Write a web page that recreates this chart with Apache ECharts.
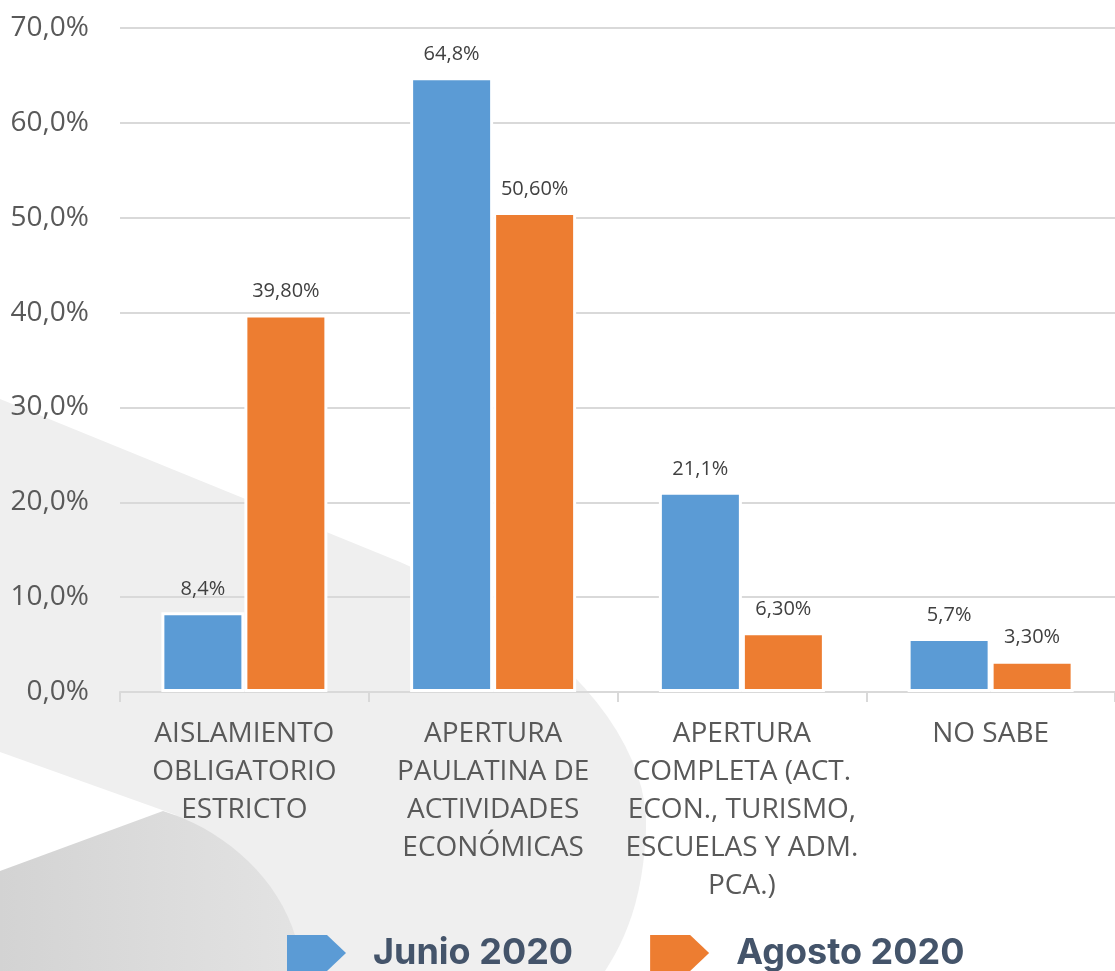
<!DOCTYPE html>
<html>
<head>
<meta charset="utf-8">
<script src="https://cdn.jsdelivr.net/npm/echarts@6/dist/echarts.min.js"></script>
<style>
html,body{margin:0;padding:0;background:#fff;}
#c{width:1115px;height:971px;}
</style>
</head>
<body>
<div id="c"></div>
<script>
var categories = [
  'AISLAMIENTO\nOBLIGATORIO\nESTRICTO',
  'APERTURA\nPAULATINA DE\nACTIVIDADES\nECONÓMICAS',
  'APERTURA\nCOMPLETA (ACT.\nECON., TURISMO,\nESCUELAS Y ADM.\nPCA.)',
  'NO SABE'
];
var junio = [8.4, 64.8, 21.1, 5.7];
var agosto = [39.8, 50.6, 6.3, 3.3];
var seriesNames = ['Junio 2020', 'Agosto 2020'];
var yTicks = { min: 0, max: 70, interval: 10 };

function fmt(v, d) { return v.toFixed(d).replace('.', ',') + '%'; }

// decorative background outline helper (cubic bezier sampling)
function bez(p0, p1, p2, p3, n) {
  var out = [];
  for (var i = 1; i <= n; i++) {
    var t = i / n, u = 1 - t;
    out.push([
      u*u*u*p0[0] + 3*u*u*t*p1[0] + 3*u*t*t*p2[0] + t*t*t*p3[0],
      u*u*u*p0[1] + 3*u*u*t*p1[1] + 3*u*t*t*p2[1] + t*t*t*p3[1]
    ]);
  }
  return out;
}
var lightShape = [[0, 399], [400, 562]]
  .concat(bez([400, 562], [560, 630], [650, 740], [646, 830], 20))
  .concat(bez([646, 830], [643, 900], [625, 940], [605, 971], 12))
  .concat([[0, 971]]);
var whiteWedge = [[0, 752], [176, 815], [0, 880]];
var darkShape = [[0, 871], [163, 811]]
  .concat(bez([163, 811], [232, 832], [296, 892], [302, 971], 20))
  .concat([[0, 971]]);

var chart = echarts.init(document.getElementById('c'));
var arrowIcon = 'path://M0 0 L40 0 L59 18 L40 36 L0 36 Z';
chart.setOption({
  animation: false,
  backgroundColor: '#ffffff',
  graphic: [
    { type: 'polygon', z: -10, silent: true, shape: { points: lightShape }, style: { fill: '#efefef' } },
    { type: 'polygon', z: -9, silent: true, shape: { points: whiteWedge }, style: { fill: '#ffffff' } },
    { type: 'polygon', z: -8, silent: true, shape: { points: darkShape },
      style: { fill: { type: 'linear', x: 0, y: 0, x2: 1, y2: 0, colorStops: [
        { offset: 0, color: '#d3d3d3' }, { offset: 1, color: '#e3e3e3' }] } } }
  ],
  grid: { left: 120, right: -8, top: 28, bottom: 279, containLabel: false },
  legend: {
    data: seriesNames,
    left: 287, top: 935, padding: 0,
    itemWidth: 59, itemHeight: 36, itemGap: 77,
    icon: arrowIcon,
    itemStyle: { borderWidth: 0 },
    textStyle: { fontFamily: 'Inter', fontWeight: 700, fontSize: 36, color: '#44546A', padding: [0, 0, 10, 22] }
  },
  xAxis: {
    type: 'category',
    data: categories,
    axisLine: { lineStyle: { color: '#d9d9d9', width: 2 } },
    axisTick: { show: true, length: 10, lineStyle: { color: '#d9d9d9', width: 2 } },
    axisLabel: { interval: 0, fontFamily: 'Open Sans', fontSize: 28, lineHeight: 38, color: '#595959', margin: 23 }
  },
  yAxis: {
    type: 'value',
    min: yTicks.min, max: yTicks.max, interval: yTicks.interval,
    axisLine: { show: false },
    axisTick: { show: false },
    splitLine: { lineStyle: { color: '#d9d9d9', width: 2 } },
    axisLabel: { fontFamily: 'Open Sans', fontSize: 28, color: '#595959', margin: 31,
      formatter: function (v) { return fmt(v, 1); } }
  },
  series: [
    { name: seriesNames[0], type: 'bar', data: junio, barWidth: 83, barGap: '0%',
      itemStyle: { color: '#5B9BD5', borderColor: '#ffffff', borderWidth: 3 },
      label: { show: true, position: 'top', distance: 13, fontFamily: 'Open Sans', fontSize: 20, color: '#404040',
        formatter: function (p) { return fmt(p.value, 1); } } },
    { name: seriesNames[1], type: 'bar', data: agosto, barWidth: 83, barGap: '0%',
      itemStyle: { color: '#ED7D31', borderColor: '#ffffff', borderWidth: 3 },
      label: { show: true, position: 'top', distance: 13, fontFamily: 'Open Sans', fontSize: 20, color: '#404040',
        formatter: function (p) { return fmt(p.value, 2); } } }
  ]
});
</script>
</body>
</html>
